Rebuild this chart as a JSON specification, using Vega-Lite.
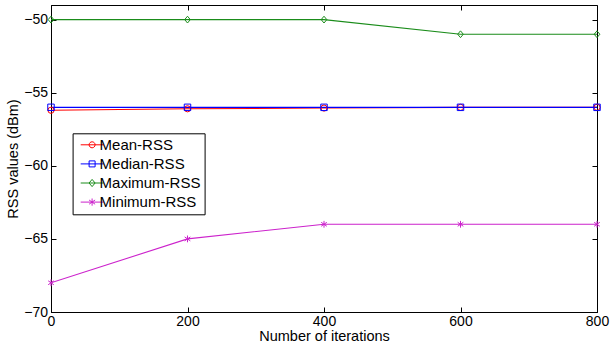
{
  "$schema": "https://vega.github.io/schema/vega-lite/v6.json",
  "width": 546,
  "height": 307,
  "autosize": {"type": "none"},
  "padding": {"left": 51, "top": 5, "right": 13, "bottom": 39},
  "background": "white",
  "config": {
    "view": {"stroke": "#000", "strokeWidth": 1},
    "font": "Liberation Sans",
    "axis": {
      "labelFont": "Liberation Sans", "labelFontSize": 14, "labelColor": "#000",
      "titleFont": "Liberation Sans", "titleFontSize": 14.5, "titleFontWeight": "normal", "titleColor": "#000",
      "domainColor": "#000", "tickColor": "#000", "grid": false, "tickSize": -5
    },
    "legend": {"labelFont": "Liberation Sans", "labelFontSize": 15, "labelColor": "#000"}
  },
  "data": {
    "values": [
      {"series": "Mean-RSS", "x": 0, "y": -56.2},
      {"series": "Mean-RSS", "x": 200, "y": -56.1},
      {"series": "Mean-RSS", "x": 400, "y": -56.05},
      {"series": "Mean-RSS", "x": 600, "y": -56.0},
      {"series": "Mean-RSS", "x": 800, "y": -56.0},
      {"series": "Median-RSS", "x": 0, "y": -56.0},
      {"series": "Median-RSS", "x": 200, "y": -56.0},
      {"series": "Median-RSS", "x": 400, "y": -56.0},
      {"series": "Median-RSS", "x": 600, "y": -56.0},
      {"series": "Median-RSS", "x": 800, "y": -56.0},
      {"series": "Maximum-RSS", "x": 0, "y": -50},
      {"series": "Maximum-RSS", "x": 200, "y": -50},
      {"series": "Maximum-RSS", "x": 400, "y": -50},
      {"series": "Maximum-RSS", "x": 600, "y": -51},
      {"series": "Maximum-RSS", "x": 800, "y": -51},
      {"series": "Minimum-RSS", "x": 0, "y": -68},
      {"series": "Minimum-RSS", "x": 200, "y": -65},
      {"series": "Minimum-RSS", "x": 400, "y": -64},
      {"series": "Minimum-RSS", "x": 600, "y": -64},
      {"series": "Minimum-RSS", "x": 800, "y": -64}
    ]
  },
  "resolve": {"axis": {"x": "independent", "y": "independent"}},
  "layer": [
    {
      "mark": {"type": "line", "strokeWidth": 1.1, "clip": true},
      "encoding": {
        "x": {"field": "x", "type": "quantitative", "scale": {"domain": [0, 800], "nice": false},
              "axis": {"values": [0, 200, 400, 600, 800], "title": "Number of iterations", "titlePadding": 1, "labelPadding": 7, "labelFlush": false, "labelOverlap": false}},
        "y": {"field": "y", "type": "quantitative", "scale": {"domain": [-70, -49], "nice": false, "zero": false},
              "axis": {"values": [-70, -65, -60, -55, -50], "title": "RSS values (dBm)", "titlePadding": 3, "labelPadding": 8.5, "labelFlush": false, "labelOverlap": false}},
        "color": {"field": "series", "type": "nominal",
                  "scale": {"domain": ["Mean-RSS", "Median-RSS", "Maximum-RSS", "Minimum-RSS"], "range": ["#ff0000", "#0000ff", "#1a8c1a", "#cc22cc"]},
                  "legend": {
          "title": null, "orient": "none", "legendX": 21.6, "legendY": 128.3,
          "strokeColor": "#000", "fillColor": "#fff", "padding": 4,
          "symbolSize": 36, "symbolStrokeWidth": 1, "symbolOffset": 8, "labelOffset": 0, "rowPadding": 3.1,
          "encode": {"symbols": {"update": {"fill": {"value": "transparent"}, "shape": {"signal": "datum.value === 'Mean-RSS' ? 'M-3.8,0L3.8,0M1,0A1,1,0,1,0,-1,0A1,1,0,1,0,1,0' : datum.value === 'Median-RSS' ? 'M-3.8,0L3.8,0M-1,-1L1,-1L1,1L-1,1Z' : datum.value === 'Maximum-RSS' ? 'M-3.8,0L3.8,0M0,-1.2L1,0L0,1.2L-1,0Z' : 'M-3.8,0L3.8,0M0,-1.2L0,1.2M-1,-0.7L1,0.7M-1,0.7L1,-0.7'"}}}}
        }},
        "order": {"field": "x"}
      }
    },
    {
      "transform": [{"filter": "datum.series === 'Mean-RSS'"}],
      "mark": {"type": "point", "shape": "circle", "filled": false, "strokeWidth": 1, "opacity": 1, "size": 38},
      "encoding": {
        "x": {"field": "x", "type": "quantitative", "axis": {"orient": "top", "values": [0, 200, 400, 600, 800], "labels": false, "title": null, "domain": false}},
        "y": {"field": "y", "type": "quantitative", "axis": {"orient": "right", "values": [-70, -65, -60, -55, -50], "labels": false, "title": null, "domain": false}},
        "color": {"field": "series", "type": "nominal"}
      }
    },
    {
      "transform": [{"filter": "datum.series === 'Median-RSS'"}],
      "mark": {"type": "point", "shape": "square", "filled": false, "strokeWidth": 1, "opacity": 1, "size": 42},
      "encoding": {
        "x": {"field": "x", "type": "quantitative", "axis": null},
        "y": {"field": "y", "type": "quantitative", "axis": null},
        "color": {"field": "series", "type": "nominal"}
      }
    },
    {
      "transform": [{"filter": "datum.series === 'Maximum-RSS'"}],
      "mark": {"type": "point", "shape": "M0,-1.2L1,0L0,1.2L-1,0Z", "filled": false, "strokeWidth": 1, "opacity": 1, "size": 32},
      "encoding": {
        "x": {"field": "x", "type": "quantitative", "axis": null},
        "y": {"field": "y", "type": "quantitative", "axis": null},
        "color": {"field": "series", "type": "nominal"}
      }
    },
    {
      "transform": [{"filter": "datum.series === 'Minimum-RSS'"}],
      "mark": {"type": "point", "shape": "M0,-1.2L0,1.2M-1,-0.7L1,0.7M-1,0.7L1,-0.7", "filled": false, "strokeWidth": 1, "opacity": 1, "size": 32},
      "encoding": {
        "x": {"field": "x", "type": "quantitative", "axis": null},
        "y": {"field": "y", "type": "quantitative", "axis": null},
        "color": {"field": "series", "type": "nominal"}
      }
    }
  ]
}
